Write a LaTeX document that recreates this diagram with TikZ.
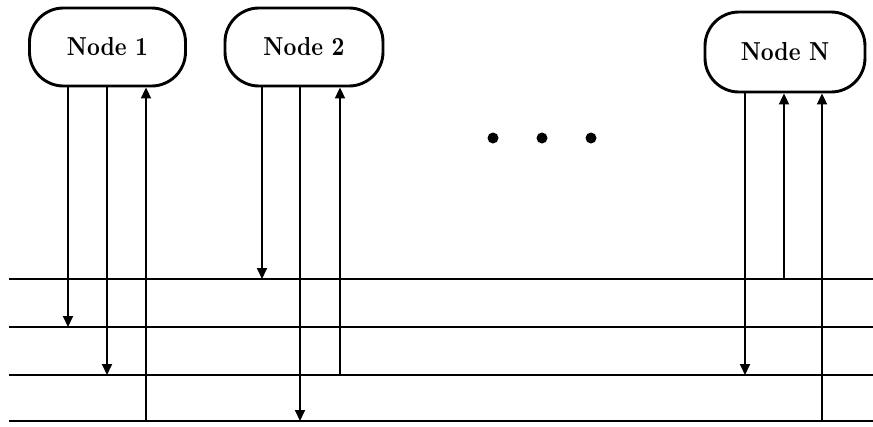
\documentclass[tikz,border=0pt]{standalone}
\usepackage{fontspec}
\usetikzlibrary{arrows.meta}
% narrow bold face for the station names
\newfontfamily\labelfont{lmroman10-bold.otf}[FakeStretch=0.86]
\begin{document}
\begin{tikzpicture}[x=1pt,y=-1pt,
  station/.style={draw,line width=2.9pt,rounded corners=34pt,minimum width=156pt,
    minimum height=78pt,inner sep=0pt,font=\labelfont\fontsize{26}{30}\selectfont},
  busline/.style={line width=2.6pt},
  tap/.style={line width=2pt},
  tx/.style={tap,-{Triangle[length=11pt,width=10pt]}},
  rx/.style={tap,-{Triangle[length=11pt,width=10pt]}},
  dot/.style={circle,fill,inner sep=0pt,minimum size=11pt}]
\useasboundingbox (0,0) rectangle (873,426);

% stations
\node[station] (n1) at (107.5,47) {Node 1};
\node[station,minimum width=158pt] (n2) at (304,47) {Node 2};
\node[station,minimum width=160pt,minimum height=80pt] (nN) at (785,52) {Node N};

% ellipsis between stations
\node[dot] (d1) at (493,138) {};
\node[dot] (d2) at (542,138) {};
\node[dot] (d3) at (591,138) {};

% the four shared buses
\coordinate (b1) at (9,279);
\coordinate (b2) at (9,327);
\coordinate (b3) at (9,375);
\coordinate (b4) at (9,421);
\coordinate (e1) at (873,279);
\coordinate (e2) at (873,327);
\coordinate (e3) at (873,375);
\coordinate (e4) at (873,421);
\foreach \i in {1,...,4} \draw[busline] (b\i) -- (e\i);

% taps of Node 1
\coordinate (a11) at ([xshift=-39.5pt]n1.south);
\coordinate (a12) at ([xshift=-0.5pt]n1.south);
\coordinate (a13) at ([xshift=38.5pt]n1.south);
\draw[tx] (a11) -- (a11 |- b2);
\draw[tx] (a12) -- (a12 |- b3);
\draw[rx] (a13 |- b4) -- (a13);

% taps of Node 2
\coordinate (a21) at ([xshift=-42pt]n2.south);
\coordinate (a22) at ([xshift=-4pt]n2.south);
\coordinate (a23) at ([xshift=36pt]n2.south);
\draw[tx] (a21) -- (a21 |- b1);
\draw[tx] (a22) -- (a22 |- b4);
\draw[rx] (a23 |- b3) -- (a23);

% taps of Node N
\coordinate (aN1) at ([xshift=-40pt]nN.south);
\coordinate (aN2) at ([xshift=-1pt]nN.south);
\coordinate (aN3) at ([xshift=37pt]nN.south);
\draw[tx] (aN1) -- (aN1 |- b3);
\draw[rx] (aN2 |- b1) -- (aN2);
\draw[rx] (aN3 |- b4) -- (aN3);
\end{tikzpicture}
\end{document}
